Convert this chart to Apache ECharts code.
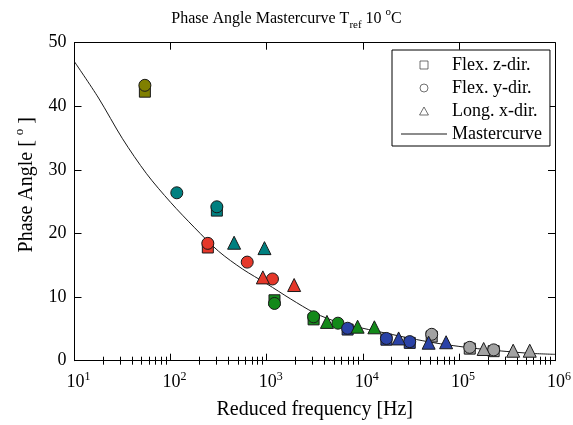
<!DOCTYPE html>
<html>
<head>
<meta charset="utf-8">
<script src="https://cdn.jsdelivr.net/npm/echarts@6/dist/echarts.min.js"></script>
<style>
  html, body { margin: 0; padding: 0; background: #fff; }
  #chart { width: 573px; height: 425px; }
</style>
</head>
<body>
<div id="chart"></div>
<script>
// measured points: frequency [Hz], phase angle [deg], test set index
const squareFreq = [54, 303, 244, 1205, 3076, 6950, 17600, 30800, 52100, 129700, 230000];
const squarePhase = [42.3, 23.6, 17.8, 9.5, 6.5, 4.9, 3.3, 2.8, 3.8, 1.9, 1.5];
const squareSet = [0, 1, 2, 3, 3, 4, 4, 4, 5, 5, 5];

const circleFreq = [54, 116, 303, 244, 627, 1148, 1205, 3076, 5510, 6950, 17600, 30800, 52100, 129700, 230000];
const circlePhase = [43.3, 26.4, 24.2, 18.45, 15.5, 12.85, 9.0, 6.9, 5.9, 5.1, 3.5, 3.0, 4.15, 2.1, 1.7];
const circleSet = [0, 1, 1, 2, 2, 2, 3, 3, 3, 4, 4, 4, 5, 5, 5];

const triangleFreq = [458, 948, 912, 1930, 4236, 8830, 13200, 23600, 48400, 73600, 181000, 367000, 546000];
const trianglePhase = [18.55, 17.7, 13.1, 11.9, 6.1, 5.35, 5.25, 3.5, 2.83, 2.9, 1.84, 1.57, 1.57];
const triangleSet = [1, 1, 2, 2, 3, 3, 3, 4, 4, 4, 5, 5, 5];

// mastercurve
const curveFreq = [10, 17.8, 31.6, 56.2, 100, 178, 316, 562, 1000, 1778, 3162, 5623,
  10000, 17783, 31623, 56234, 100000, 177828, 316228, 562341, 1000000];
const curvePhase = [47.0, 41.3, 34.9, 29.4, 24.9, 20.9, 17.2, 14.4, 12.1, 9.7, 7.5, 6.0,
  5.1, 4.3, 3.5, 2.8, 2.25, 1.8, 1.45, 1.15, 1.0];

const xTickExponents = [1, 2, 3, 4, 5, 6];
const yTicks = [0, 10, 20, 30, 40, 50];
const legendNames = ['Flex. z-dir.', 'Flex. y-dir.', 'Long. x-dir.', 'Mastercurve'];

const setColors = ['#808000', '#008080', '#e5382a', '#13891a', '#2a42a6', '#a2a2a2'];
const font = "'Liberation Serif', 'DejaVu Serif', serif";

// minor log ticks 2..9 per decade, in log10 space
const minorTicks = [];
for (let d = xTickExponents[0]; d < xTickExponents[xTickExponents.length - 1]; d++) {
  for (let k = 2; k <= 9; k++) {
    minorTicks.push(d + Math.log10(k));
  }
}

function points(freq, phase, sets) {
  return freq.map((f, i) => ({
    value: [f, phase[i]],
    itemStyle: { color: setColors[sets[i]] },
  }));
}

const markerStyle = { color: '#fff', borderColor: '#1a1a1a', borderWidth: 1, opacity: 1 };
const legendIconStyle = { color: '#fff', borderColor: '#333', borderWidth: 0.7 };

const chart = echarts.init(document.getElementById('chart'), null, { renderer: 'canvas' });

chart.setOption({
  animation: false,
  backgroundColor: '#fff',
  title: {
    text: '{a|Phase Angle Mastercurve T}{sub|ref}{a| 10 }{sup|o}{a|C}',
    left: 'center',
    top: 2,
    textStyle: {
      fontFamily: font,
      fontWeight: 'normal',
      color: '#000',
      rich: {
        a: { fontFamily: font, fontSize: 16, lineHeight: 24, color: '#000' },
        sub: { fontFamily: font, fontSize: 11, lineHeight: 10, verticalAlign: 'bottom', color: '#000' },
        sup: { fontFamily: font, fontSize: 11, lineHeight: 12, verticalAlign: 'top', color: '#000' },
      },
    },
  },
  legend: {
    data: [
      { name: legendNames[0], icon: 'path://M0,0H10V10H0Z', itemStyle: legendIconStyle },
      { name: legendNames[1], icon: 'path://M5,0A5,5,0,1,1,5,10A5,5,0,1,1,5,0Z', itemStyle: legendIconStyle },
      { name: legendNames[2], icon: 'path://M5,0L10,9L0,9Z', itemStyle: legendIconStyle },
      { name: legendNames[3], icon: 'path://M0,0H46V1H0Z', itemStyle: { color: '#1a1a1a', borderWidth: 0 } },
    ],
    orient: 'vertical',
    left: 392,
    top: 50,
    align: 'left',
    itemWidth: 46,
    itemHeight: 8,
    itemGap: 5,
    symbolKeepAspect: true,
    padding: [6, 8, 3, 9],
    borderColor: '#000',
    borderWidth: 1,
    borderRadius: 0,
    backgroundColor: '#fff',
    textStyle: { fontFamily: font, fontSize: 18, color: '#000' },
  },
  grid: {
    left: 74.5,
    right: 18,
    top: 42.7,
    bottom: 64.3,
    containLabel: false,
    outerBoundsMode: 'none',
  },
  xAxis: [
    {
      type: 'log',
      logBase: 10,
      min: 10,
      max: 1000000,
      position: 'bottom',
      name: 'Reduced frequency [Hz]',
      nameLocation: 'middle',
      nameGap: 39,
      nameTextStyle: { fontFamily: font, fontSize: 20, color: '#000' },
      axisLine: { show: true, onZero: false, lineStyle: { color: '#000', width: 1 } },
      axisTick: { show: true, inside: true, length: 7, lineStyle: { color: '#000' } },
      splitLine: { show: false },
      minorTick: { show: false },
      axisLabel: {
        margin: 10,
        formatter: (v) => '{b|10}{s|' + Math.round(Math.log10(v)) + '}',
        rich: {
          b: { fontFamily: font, fontSize: 18, lineHeight: 24, color: '#000', padding: [0, 0, 0, 8] },
          s: { fontFamily: font, fontSize: 12, lineHeight: 10, verticalAlign: 'top', color: '#000' },
        },
      },
    },
    {
      type: 'value',
      min: 1,
      max: 6,
      position: 'bottom',
      axisLine: { show: false },
      axisTick: { show: true, inside: true, length: 4, customValues: minorTicks, lineStyle: { color: '#000' } },
      axisLabel: { show: false },
      splitLine: { show: false },
    },
    {
      type: 'log',
      logBase: 10,
      min: 10,
      max: 1000000,
      position: 'top',
      axisLine: { show: true, onZero: false, lineStyle: { color: '#000', width: 1 } },
      axisTick: { show: true, inside: true, length: 7, lineStyle: { color: '#000' } },
      axisLabel: { show: false },
      splitLine: { show: false },
    },
    {
      type: 'value',
      min: 1,
      max: 6,
      position: 'top',
      axisLine: { show: false },
      axisTick: { show: true, inside: true, length: 4, customValues: minorTicks, lineStyle: { color: '#000' } },
      axisLabel: { show: false },
      splitLine: { show: false },
    },
  ],
  yAxis: [
    {
      type: 'value',
      min: yTicks[0],
      max: yTicks[yTicks.length - 1],
      interval: 10,
      position: 'left',
      name: '{n|Phase Angle [ }{s|o}{n| ]}',
      nameLocation: 'middle',
      nameGap: 35,
      nameRotate: 90,
      nameTextStyle: {
        fontFamily: font,
        color: '#000',
        padding: [0, 0, 0, 34],
        rich: {
          n: { fontFamily: font, fontSize: 20, lineHeight: 26, color: '#000' },
          s: { fontFamily: font, fontSize: 13, lineHeight: 12, verticalAlign: 'top', color: '#000' },
        },
      },
      axisLine: { show: true, onZero: false, lineStyle: { color: '#000', width: 1 } },
      axisTick: { show: true, inside: true, length: 7, lineStyle: { color: '#000' } },
      axisLabel: { fontFamily: font, fontSize: 18, color: '#000', margin: 8 },
      splitLine: { show: false },
    },
    {
      type: 'value',
      min: yTicks[0],
      max: yTicks[yTicks.length - 1],
      interval: 10,
      position: 'right',
      axisLine: { show: true, onZero: false, lineStyle: { color: '#000', width: 1 } },
      axisTick: { show: true, inside: true, length: 7, lineStyle: { color: '#000' } },
      axisLabel: { show: false },
      splitLine: { show: false },
    },
  ],
  series: [
    {
      name: legendNames[3],
      type: 'line',
      xAxisIndex: 0,
      yAxisIndex: 0,
      data: curveFreq.map((f, i) => [f, curvePhase[i]]),
      symbol: 'none',
      smooth: 0.3,
      lineStyle: { color: '#1a1a1a', width: 1 },
      itemStyle: { color: '#1a1a1a' },
      z: 1,
    },
    {
      name: legendNames[0],
      type: 'scatter',
      xAxisIndex: 0,
      yAxisIndex: 0,
      symbol: 'rect',
      symbolSize: 11,
      itemStyle: markerStyle,
      data: points(squareFreq, squarePhase, squareSet),
      z: 2,
    },
    {
      name: legendNames[1],
      type: 'scatter',
      xAxisIndex: 0,
      yAxisIndex: 0,
      symbol: 'circle',
      symbolSize: 12,
      itemStyle: markerStyle,
      data: points(circleFreq, circlePhase, circleSet),
      z: 3,
    },
    {
      name: legendNames[2],
      type: 'scatter',
      xAxisIndex: 0,
      yAxisIndex: 0,
      symbol: 'triangle',
      symbolSize: 13,
      itemStyle: markerStyle,
      data: points(triangleFreq, trianglePhase, triangleSet),
      z: 4,
    },
  ],
});
</script>
</body>
</html>
